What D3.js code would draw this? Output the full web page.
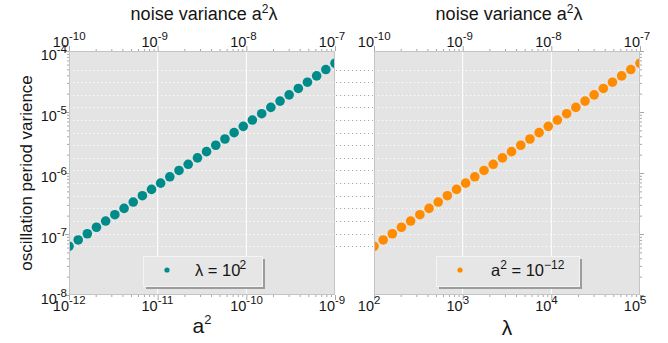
<!DOCTYPE html>
<html>
<head>
<meta charset="utf-8">
<script src="https://cdn.jsdelivr.net/npm/d3@7"></script>
<style>
  body { margin: 0; background: #fff; }
  text { font-family: "Liberation Sans", Arial, sans-serif; fill: #151515; }
</style>
</head>
<body>
<svg id="chart" width="668" height="343"></svg>
<script>
// a^2 sweep (lambda = 10^2)
var a2Values = [1.00e-12, 1.27e-12, 1.61e-12, 2.04e-12, 2.59e-12, 3.29e-12, 4.18e-12, 5.30e-12, 6.72e-12, 8.53e-12,
                1.08e-11, 1.37e-11, 1.74e-11, 2.21e-11, 2.81e-11, 3.56e-11, 4.52e-11, 5.74e-11, 7.28e-11, 9.24e-11,
                1.17e-10, 1.49e-10, 1.89e-10, 2.40e-10, 3.04e-10, 3.86e-10, 4.89e-10, 6.21e-10, 7.88e-10, 1.00e-9];
// lambda sweep (a^2 = 10^-12)
var lambdaValues = [100, 127, 161, 204, 259, 329, 418, 530, 672, 853,
                    1080, 1370, 1740, 2210, 2810, 3560, 4520, 5740, 7280, 9240,
                    11700, 14900, 18900, 24000, 30400, 38600, 48900, 62100, 78800, 100000];
// oscillation period variance (same for both sweeps)
var periodVariance = [6.30e-8, 7.99e-8, 1.01e-7, 1.29e-7, 1.63e-7, 2.07e-7, 2.63e-7, 3.34e-7, 4.24e-7, 5.38e-7,
                      6.82e-7, 8.66e-7, 1.10e-6, 1.39e-6, 1.77e-6, 2.24e-6, 2.85e-6, 3.61e-6, 4.59e-6, 5.82e-6,
                      7.38e-6, 9.37e-6, 1.19e-5, 1.51e-5, 1.91e-5, 2.43e-5, 3.08e-5, 3.91e-5, 4.97e-5, 6.30e-5];

var a2Ticks = [1e-12, 1e-11, 1e-10, 1e-9];
var lambdaTicks = [1e2, 1e3, 1e4, 1e5];
var noiseTicks = [1e-10, 1e-9, 1e-8, 1e-7];
var varianceTicks = [1e-8, 1e-7, 1e-6, 1e-5, 1e-4];

var svg = d3.select("#chart");
var top0 = 51, bot0 = 295;
var frameColor = "#c4c4c4", tickColor = "#a8a8a8";
var baseSize = 14.5, supSize = 11.5;

var y = d3.scaleLog().domain([1e-8, 1e-4]).range([bot0, top0]);

function expo(v) { return String(Math.round(Math.log10(v))); }

var panels = [
  { x0: 69, x1: 335, domain: [1e-12, 1e-9], xs: a2Values, ticks: a2Ticks, color: "#008b8b",
    leftAxis: true, rightAxis: false, legendX: 143, legendW: 119 },
  { x0: 374, x1: 640, domain: [1e2, 1e5], xs: lambdaValues, ticks: lambdaTicks, color: "#ff8c00",
    leftAxis: false, rightAxis: true, legendX: 436, legendW: 143 }
];

panels.forEach(function(p, pi) {
  p.x = d3.scaleLog().domain(p.domain).range([p.x0, p.x1]);
  p.xt = d3.scaleLog().domain([1e-10, 1e-7]).range([p.x0, p.x1]);

  svg.append("rect").attr("x", p.x0).attr("y", top0)
     .attr("width", p.x1 - p.x0).attr("height", bot0 - top0).attr("fill", "#e4e4e4");

  // vertical white grid at decades
  svg.append("g").selectAll("line").data(p.ticks.slice(1, -1)).enter().append("line")
     .attr("x1", function(d) { return p.x(d); }).attr("x2", function(d) { return p.x(d); })
     .attr("y1", top0).attr("y2", bot0).attr("stroke", "#fff").attr("stroke-width", 1);
});

// dotted horizontal guides at every other point, across both panels
var guideVals = periodVariance.filter(function(d, i) { return i % 2 === 0; });
var segs = [
  { a: panels[0].x0, b: panels[0].x1, c: "#ffffff" },
  { a: panels[0].x1 + 1, b: panels[1].x0 - 1, c: "#a8a8a8" },
  { a: panels[1].x0, b: panels[1].x1, c: "#ffffff" }
];
segs.forEach(function(s) {
  svg.append("g").selectAll("line").data(guideVals).enter().append("line")
     .attr("x1", s.a).attr("x2", s.b)
     .attr("y1", function(d) { return Math.round(y(d)) + 0.5; })
     .attr("y2", function(d) { return Math.round(y(d)) + 0.5; })
     .attr("stroke", s.c).attr("stroke-width", 1).attr("stroke-dasharray", "1.2,2.8");
});

panels.forEach(function(p, pi) {
  svg.append("clipPath").attr("id", "clip" + pi).append("rect")
     .attr("x", p.x0).attr("y", top0).attr("width", p.x1 - p.x0).attr("height", bot0 - top0);

  svg.append("g").attr("clip-path", "url(#clip" + pi + ")")
     .selectAll("circle").data(p.xs).enter().append("circle")
     .attr("cx", function(d) { return p.x(d); })
     .attr("cy", function(d, i) { return y(periodVariance[i]); })
     .attr("r", 4.8).attr("fill", p.color);

  // frame
  svg.append("rect").attr("x", p.x0 + 0.5).attr("y", top0 + 0.5)
     .attr("width", p.x1 - p.x0 - 1).attr("height", bot0 - top0 - 1)
     .attr("fill", "none").attr("stroke", frameColor);

  // bottom axis ticks
  var minorB = p.x.ticks().filter(function(d) { return p.ticks.indexOf(d) < 0; });
  var gb = svg.append("g").attr("transform", "translate(0," + bot0 + ")");
  gb.call(d3.axisBottom(p.x).tickValues(p.ticks).tickSize(5).tickFormat(""));
  gb.append("g").call(d3.axisBottom(p.x).tickValues(minorB).tickSize(2).tickFormat(""));
  gb.selectAll("path").remove();
  gb.selectAll("line").attr("stroke", tickColor);

  // top axis ticks (noise variance)
  var minorT = p.xt.ticks().filter(function(d) { return noiseTicks.indexOf(d) < 0; });
  var gt = svg.append("g").attr("transform", "translate(0," + top0 + ")");
  gt.call(d3.axisTop(p.xt).tickValues(noiseTicks).tickSize(5).tickFormat(""));
  gt.append("g").call(d3.axisTop(p.xt).tickValues(minorT).tickSize(2).tickFormat(""));
  gt.selectAll("path").remove();
  gt.selectAll("line").attr("stroke", tickColor);

  // y ticks
  var minorY = y.ticks().filter(function(d) { return varianceTicks.indexOf(d) < 0; });
  if (p.leftAxis || p.rightAxis) {
    var gy = svg.append("g").attr("transform", "translate(" + (p.leftAxis ? p.x0 : p.x1) + ",0)");
    var ax = p.leftAxis ? d3.axisLeft : d3.axisRight;
    gy.call(ax(y).tickValues(varianceTicks).tickSize(4).tickFormat(""));
    gy.append("g").call(ax(y).tickValues(minorY).tickSize(2).tickFormat(""));
    gy.selectAll("path").remove();
    gy.selectAll("line").attr("stroke", tickColor);
  }

  // bottom tick labels: "10" ends at the tick, exponent after it
  p.ticks.forEach(function(t) {
    var tx = p.x(t);
    svg.append("text").attr("x", tx).attr("y", 310.5).attr("text-anchor", "end")
       .attr("font-size", baseSize).text("10");
    svg.append("text").attr("x", tx).attr("y", 304).attr("font-size", supSize).text(expo(t));
  });
  noiseTicks.forEach(function(t) {
    var tx = p.xt(t);
    svg.append("text").attr("x", tx).attr("y", 46.5).attr("text-anchor", "end")
       .attr("font-size", baseSize).text("10");
    svg.append("text").attr("x", tx).attr("y", 39.5).attr("font-size", supSize).text(expo(t));
  });

  // top title
  var tt = svg.append("text").attr("x", (p.x0 + p.x1) / 2 + 2).attr("y", 20)
     .attr("text-anchor", "middle").attr("font-size", 18);
  tt.append("tspan").text("noise variance a");
  tt.append("tspan").attr("dy", -7).attr("font-size", 12).text("2");
  tt.append("tspan").attr("dy", 7).text("λ");

  // bottom title
  var bt = svg.append("text").attr("x", (p.x0 + p.x1) / 2).attr("y", pi === 0 ? 333 : 335)
     .attr("text-anchor", "middle").attr("font-size", 21);
  if (pi === 0) {
    bt.append("tspan").text("a");
    bt.append("tspan").attr("dy", -9).attr("font-size", 13).text("2");
  } else {
    bt.text("λ");
  }

  // legend
  var lx = p.legendX, ly = 256, lw = p.legendW, lh = 30;
  svg.append("rect").attr("x", lx + 3).attr("y", ly + 3).attr("width", lw).attr("height", lh).attr("fill", "#9c9c9c");
  svg.append("rect").attr("x", lx + 0.5).attr("y", ly + 0.5).attr("width", lw).attr("height", lh)
     .attr("fill", "#e6e6e6").attr("stroke", "#f4f4f4");
  svg.append("circle").attr("cx", lx + 24).attr("cy", ly + 14).attr("r", 2.6).attr("fill", p.color);
  var lt = svg.append("text").attr("y", ly + 20).attr("font-size", 16.5);
  if (pi === 0) {
    lt.attr("x", lx + 52);
    lt.append("tspan").text("λ = 10");
    lt.append("tspan").attr("dy", -7).attr("dx", -1).attr("font-size", 12).text("2");
  } else {
    lt.attr("x", lx + 55);
    lt.append("tspan").text("a");
    lt.append("tspan").attr("dy", -7).attr("font-size", 12).text("2");
    lt.append("tspan").attr("dy", 7).text(" = 10");
    lt.append("tspan").attr("dy", -7).attr("font-size", 12).text("\u221212");
  }
});

// y tick labels
varianceTicks.forEach(function(t) {
  var ty = y(t);
  var g = svg.append("text").attr("x", 67).attr("y", ty + 9).attr("text-anchor", "end").attr("font-size", baseSize);
  g.append("tspan").text("10");
  g.append("tspan").attr("dy", -7).attr("font-size", supSize).text(expo(t));
});

// y title
svg.append("text").attr("transform", "translate(32," + ((top0 + bot0) / 2) + ") rotate(-90)")
   .attr("text-anchor", "middle").attr("font-size", 17).text("oscillation period varience");
</script>
</body>
</html>
